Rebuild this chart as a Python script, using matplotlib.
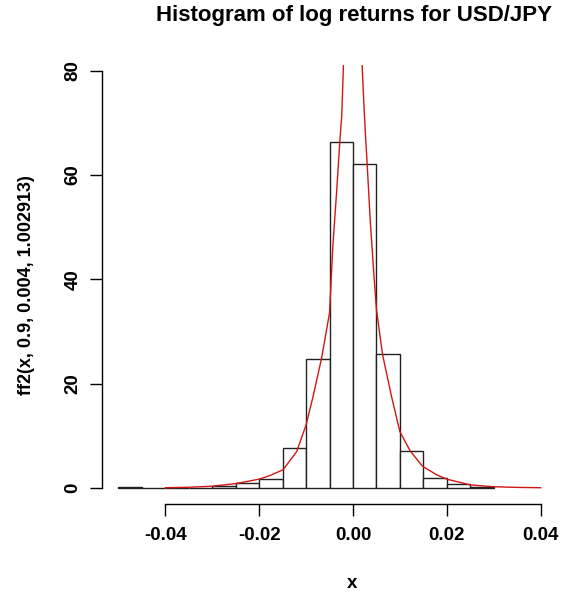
import numpy as np
import matplotlib
matplotlib.use("Agg")
import matplotlib.pyplot as plt

plt.rcParams['font.family'] = ['Liberation Sans', 'DejaVu Sans']
plt.rcParams['font.weight'] = 'bold'

# histogram of log returns (density), bins of width 0.005
bin_left = [-0.050, -0.045, -0.040, -0.035, -0.030, -0.025, -0.020, -0.015,
            -0.010, -0.005, 0.000, 0.005, 0.010, 0.015, 0.020, 0.025]
density = [0.2, 0.0, 0.0, 0.0, 0.3, 0.97, 1.8, 7.6,
           24.7, 66.3, 62.2, 25.7, 7.1, 2.0, 0.7, 0.25]
bin_width = 0.005

# fitted density ff2(x, 0.9, 0.004, 1.002913)
curve_left_x = [-0.040, -0.035, -0.030, -0.025, -0.020, -0.0177, -0.0149, -0.0120,
                -0.0100, -0.0085, -0.0067, -0.0050, -0.0043, -0.0035, -0.0028,
                -0.0024, -0.0020]
curve_left_y = [0.06, 0.15, 0.35, 0.85, 1.7, 2.4, 3.5, 7.0,
                12.1, 17.6, 24.9, 33.6, 46.4, 56.7, 66.6,
                71.4, 82.0]
curve_right_x = [0.0019, 0.0023, 0.0027, 0.0030, 0.0037, 0.0044, 0.0050, 0.0063,
                 0.0082, 0.0100, 0.0122, 0.0148, 0.0179, 0.0200, 0.0250, 0.0300,
                 0.0350, 0.0400]
curve_right_y = [82.0, 74.0, 67.0, 62.4, 50.9, 41.6, 34.2, 25.6,
                 17.6, 10.8, 7.1, 4.2, 2.5, 1.7, 0.6, 0.25,
                 0.12, 0.06]

xticks = [-0.04, -0.02, 0.00, 0.02, 0.04]
xticklabels = ['-0.04', '-0.02', '0.00', '0.02', '0.04']
yticks = [0, 20, 40, 60, 80]

W, H = 561, 596
fig = plt.figure(figsize=(W / 100, H / 100), dpi=100)
left, right, top, bottom = 101.6, 557.5, 65, 504.3
ax = fig.add_axes([left / W, 1 - bottom / H, (right - left) / W, (bottom - top) / H])

ax.bar(bin_left, density, width=bin_width, align='edge', facecolor='white',
       edgecolor='#222222', linewidth=1, clip_on=False, zorder=2)
ax.plot(curve_left_x, curve_left_y, color='#d41515', lw=1, zorder=3)
ax.plot(curve_right_x, curve_right_y, color='#d41515', lw=1, zorder=3)

ax.set_xlim(-0.0536, 0.0436)
ax.set_ylim(-3.12, 81.1)

for s in ['top', 'right']:
    ax.spines[s].set_visible(False)
ax.spines['left'].set_bounds(0, 80)
ax.spines['bottom'].set_bounds(-0.04, 0.04)
for s in ['left', 'bottom']:
    ax.spines[s].set_linewidth(1)
    ax.spines[s].set_color('black')

ax.set_xticks(xticks)
ax.set_xticklabels(xticklabels)
ax.set_yticks(yticks)
ax.set_yticklabels([str(v) for v in yticks], rotation=90, va='center')
ax.tick_params(direction='out', length=8.5, width=1, labelsize=13.5, colors='black')
ax.tick_params(axis='x', pad=8)
ax.tick_params(axis='y', pad=6)

fig.text(354.5 / W, 1 - 15 / H, 'Histogram of log returns for USD/JPY',
         ha='center', va='center', fontsize=16, fontweight='bold')
fig.text(352 / W, 1 - 583 / H, 'x', ha='center', va='center', fontsize=13.5)
fig.text(27 / W, 1 - 285 / H, 'ff2(x, 0.9, 0.004, 1.002913)', rotation=90,
         ha='center', va='center', fontsize=13)

fig.savefig('out.png', dpi=100)
